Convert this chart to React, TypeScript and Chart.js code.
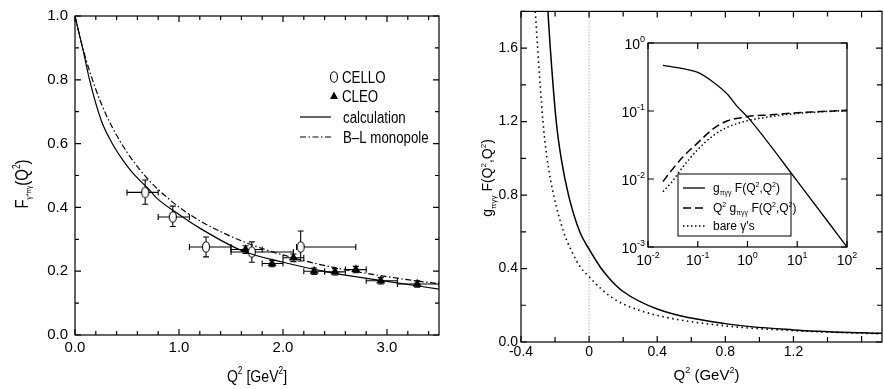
import React, { useEffect, useRef } from "react";
import { Chart, registerables } from "chart.js";

Chart.register(...registerables);

// ---------------- Left panel: F_{γ*πγ}(Q²) ----------------
const calcQ2 = [0, 0.04, 0.08, 0.14, 0.25, 0.35, 0.45, 0.55, 0.7, 0.8, 1.0, 1.2, 1.6, 2.0, 2.5, 3.0, 3.5];
const calcF = [1.0, 0.945, 0.89, 0.8, 0.675, 0.605, 0.553, 0.51, 0.46, 0.425, 0.378, 0.335, 0.265, 0.228, 0.193, 0.168, 0.144];

const blQ2 = [0, 0.05, 0.1, 0.2, 0.3, 0.4, 0.5, 0.6, 0.7, 0.8, 1.0, 1.2, 1.4, 1.6, 1.8, 2.0, 2.25, 2.5, 2.75, 3.0, 3.25, 3.5];
const blF = [1.0, 0.93, 0.87, 0.77, 0.69, 0.626, 0.573, 0.528, 0.489, 0.456, 0.401, 0.358, 0.324, 0.295, 0.271, 0.251, 0.229, 0.211, 0.196, 0.183, 0.171, 0.161];

const celloQ2 = [0.675, 0.94, 1.26, 1.7, 2.17];
const celloF = [0.447, 0.37, 0.276, 0.26, 0.276];
const celloQ2Lo = [0.5, 0.8, 1.1, 1.5, 2.13];
const celloQ2Hi = [0.8, 1.1, 1.5, 2.1, 2.7];
const celloFLo = [0.41, 0.34, 0.245, 0.228, 0.232];
const celloFHi = [0.486, 0.404, 0.307, 0.292, 0.326];

const cleoQ2 = [1.64, 1.895, 2.1, 2.3, 2.5, 2.7, 2.94, 3.29];
const cleoF = [0.268, 0.224, 0.242, 0.2, 0.198, 0.205, 0.17, 0.16];
const cleoQ2Lo = [1.5, 1.8, 2.0, 2.2, 2.4, 2.6, 2.8, 3.1];
const cleoQ2Hi = [1.8, 2.0, 2.2, 2.4, 2.6, 2.8, 3.1, 3.5];
const cleoFLo = [0.256, 0.214, 0.23, 0.19, 0.188, 0.195, 0.16, 0.15];
const cleoFHi = [0.28, 0.234, 0.254, 0.21, 0.208, 0.215, 0.18, 0.17];

const leftLegend = ["CELLO", "CLEO", "calculation", "B\u2013L monopole"];

// ---------------- Right panel: g F(Q²,Q²) ----------------
const fullQ2 = [-0.242, -0.228, -0.193, -0.164, -0.121, -0.055, 0, 0.064, 0.12, 0.2, 0.4, 0.8, 1.2, 1.6, 1.72];
const fullG = [1.8, 1.6, 1.2, 1.0, 0.8, 0.6, 0.505, 0.41, 0.345, 0.275, 0.18, 0.1, 0.066, 0.05, 0.047];

const bareQ2 = [-0.316, -0.302, -0.271, -0.247, -0.208, -0.15, -0.1, -0.053, 0, 0.07, 0.133, 0.2, 0.4, 0.8, 1.2, 1.6, 1.72];
const bareG = [1.8, 1.6, 1.2, 1.0, 0.8, 0.6, 0.49, 0.41, 0.355, 0.29, 0.243, 0.207, 0.145, 0.088, 0.062, 0.048, 0.045];

const zeroLineQ2 = 0;

// ---------------- Inset (log-log) ----------------
const insetSolidQ2 = [0.02, 0.05, 0.1, 0.2, 0.4, 0.6, 1, 10, 100];
const insetSolid = [0.47, 0.42, 0.37, 0.27, 0.175, 0.12, 0.082, 0.0093, 0.001];
const insetCurveQ2 = [0.02, 0.03, 0.05, 0.1, 0.2, 0.4, 0.7, 1, 3, 10, 30, 100];
const insetDashed = [0.0092, 0.0135, 0.021, 0.034, 0.054, 0.072, 0.079, 0.083, 0.088, 0.094, 0.098, 0.103];
const insetBare = [0.0065, 0.009, 0.015, 0.027, 0.043, 0.058, 0.067, 0.072, 0.083, 0.092, 0.097, 0.102];
const insetXTicks = [0.01, 0.1, 1, 10, 100];
const insetXExp = ["-2", "-1", "0", "1", "2"];
const insetYTicks = [0.001, 0.01, 0.1, 1];
const insetYExp = ["-3", "-2", "-1", "0"];

// ---------------- helpers ----------------
const SANS = "'Liberation Sans', Arial, Helvetica, sans-serif";
const NARROW_X = 0.83;

type Seg = [string, number, number];

function drawRich(
  ctx: CanvasRenderingContext2D,
  segs: Seg[],
  x: number,
  y: number,
  family: string,
  align: "left" | "center" | "right",
  rot = 0,
  sx = 1
) {
  ctx.save();
  ctx.translate(x, y);
  if (rot) ctx.rotate(rot);
  if (sx !== 1) ctx.scale(sx, 1);
  ctx.textBaseline = "alphabetic";
  ctx.textAlign = "left";
  ctx.fillStyle = "#000";
  let total = 0;
  const widths = segs.map(([t, s]) => {
    ctx.font = `${s}px ${family}`;
    const w = ctx.measureText(t).width;
    total += w;
    return w;
  });
  let cx = align === "center" ? -total / 2 : align === "right" ? -total : 0;
  segs.forEach(([t, s, dy], i) => {
    ctx.font = `${s}px ${family}`;
    ctx.fillText(t, cx, dy);
    cx += widths[i];
  });
  ctx.restore();
}

const isMult = (v: number, step: number) => Math.abs(v / step - Math.round(v / step)) < 1e-6;

function drawFrameTicks(
  chart: any,
  xMinor: number,
  xMajor: number,
  yMinor: number,
  yMajor: number,
  majLen: number,
  minLen: number,
  lw: number
) {
  const { ctx, chartArea: a } = chart;
  const xs = chart.scales.x;
  const ys = chart.scales.y;
  ctx.save();
  ctx.strokeStyle = "#000";
  ctx.lineWidth = lw;
  ctx.setLineDash([]);
  ctx.strokeRect(a.left, a.top, a.right - a.left, a.bottom - a.top);
  ctx.beginPath();
  for (let k = Math.ceil(xs.min / xMinor - 1e-6); k * xMinor <= xs.max + 1e-9; k++) {
    const v = k * xMinor;
    const px = xs.getPixelForValue(v);
    const len = isMult(v, xMajor) ? majLen : minLen;
    ctx.moveTo(px, a.bottom);
    ctx.lineTo(px, a.bottom - len);
    ctx.moveTo(px, a.top);
    ctx.lineTo(px, a.top + len);
  }
  for (let k = Math.ceil(ys.min / yMinor - 1e-6); k * yMinor <= ys.max + 1e-9; k++) {
    const v = k * yMinor;
    const py = ys.getPixelForValue(v);
    const len = isMult(v, yMajor) ? majLen : minLen;
    ctx.moveTo(a.left, py);
    ctx.lineTo(a.left + len, py);
    ctx.moveTo(a.right, py);
    ctx.lineTo(a.right - len, py);
  }
  ctx.stroke();
  ctx.restore();
}

function ellipseMarker(): HTMLCanvasElement {
  const c = document.createElement("canvas");
  c.width = 10;
  c.height = 14;
  const g = c.getContext("2d")!;
  g.beginPath();
  g.ellipse(5, 7, 3.5, 5.3, 0, 0, Math.PI * 2);
  g.fillStyle = "#fff";
  g.fill();
  g.lineWidth = 1.1;
  g.strokeStyle = "#000";
  g.stroke();
  return c;
}

function pts(xs: number[], ys: number[]) {
  return xs.map((x, i) => ({ x, y: ys[i] }));
}

function linScale(min: number, max: number, step: number, major: number, fmt: (v: number) => string, font: any, padding: number, fitKey: "width" | "height", fitVal: number) {
  return {
    type: "linear" as const,
    min,
    max,
    ticks: {
      stepSize: step,
      autoSkip: false,
      maxRotation: 0,
      minRotation: 0,
      padding,
      color: "#000",
      font,
      callback: (v: any) => (isMult(Number(v), major) ? fmt(Number(v)) : ""),
    },
    grid: { display: false, drawTicks: false },
    border: { display: false },
    afterFit: (s: any) => {
      s[fitKey] = fitVal;
    },
  };
}

// ---------------- chart configs ----------------
function leftConfig(marker: HTMLCanvasElement): any {
  const tickFont = { family: SANS, size: 15 };
  const errPlugin = {
    id: "errbars",
    beforeDatasetsDraw(chart: any) {
      const { ctx, chartArea: a } = chart;
      const xs = chart.scales.x;
      const ys = chart.scales.y;
      ctx.save();
      ctx.beginPath();
      ctx.rect(a.left, a.top, a.right - a.left, a.bottom - a.top);
      ctx.clip();
      ctx.strokeStyle = "#000";
      ctx.lineWidth = 1.1;
      const cap = 3;
      const bar = (q: number, f: number, qlo: number, qhi: number, flo: number, fhi: number) => {
        const px = xs.getPixelForValue(q);
        const py = ys.getPixelForValue(f);
        const x0 = xs.getPixelForValue(qlo);
        const x1 = xs.getPixelForValue(qhi);
        const y0 = ys.getPixelForValue(flo);
        const y1 = ys.getPixelForValue(fhi);
        ctx.beginPath();
        ctx.moveTo(x0, py);
        ctx.lineTo(x1, py);
        ctx.moveTo(x0, py - cap);
        ctx.lineTo(x0, py + cap);
        ctx.moveTo(x1, py - cap);
        ctx.lineTo(x1, py + cap);
        ctx.moveTo(px, y0);
        ctx.lineTo(px, y1);
        ctx.moveTo(px - cap, y0);
        ctx.lineTo(px + cap, y0);
        ctx.moveTo(px - cap, y1);
        ctx.lineTo(px + cap, y1);
        ctx.stroke();
      };
      celloQ2.forEach((q, i) => bar(q, celloF[i], celloQ2Lo[i], celloQ2Hi[i], celloFLo[i], celloFHi[i]));
      cleoQ2.forEach((q, i) => bar(q, cleoF[i], cleoQ2Lo[i], cleoQ2Hi[i], cleoFLo[i], cleoFHi[i]));
      ctx.restore();
    },
    afterDraw(chart: any) {
      const { ctx, chartArea: a } = chart;
      drawFrameTicks(chart, 0.2, 1.0, 0.1, 0.2, 6, 4, 1.2);
      // axis titles
      drawRich(ctx, [["Q", 17, 0], ["2", 10, -8], [" [GeV", 17, 0], ["2", 10, -8], ["]", 17, 0]], (a.left + a.right) / 2, 382, SANS, "center", 0, NARROW_X);
      drawRich(ctx, [["F", 18, 0], ["\u03B3*\u03C0\u03B3", 8, 3], ["(Q", 18, 0], ["2", 10, -8], [")", 18, 0]], 28, 184, SANS, "center", -Math.PI / 2, NARROW_X);
      // legend
      const lx0 = a.left + 225;
      const lx1 = a.left + 256;
      const mx = a.left + 259;
      const tx = a.left + 267;
      const rows = [a.top + 61, a.top + 80, a.top + 101, a.top + 121];
      ctx.save();
      ctx.drawImage(marker, mx - marker.width / 2, rows[0] - marker.height / 2);
      ctx.fillStyle = "#000";
      ctx.beginPath();
      ctx.moveTo(mx, rows[1] - 4.5);
      ctx.lineTo(mx + 4, rows[1] + 3);
      ctx.lineTo(mx - 4, rows[1] + 3);
      ctx.closePath();
      ctx.fill();
      ctx.strokeStyle = "#000";
      ctx.lineWidth = 1.2;
      ctx.beginPath();
      ctx.moveTo(lx0, rows[2]);
      ctx.lineTo(lx1, rows[2]);
      ctx.stroke();
      ctx.setLineDash([6, 2.5, 1.5, 2.5]);
      ctx.beginPath();
      ctx.moveTo(lx0, rows[3]);
      ctx.lineTo(lx1, rows[3]);
      ctx.stroke();
      ctx.restore();
      leftLegend.forEach((t, i) => drawRich(ctx, [[t, 16, 0]], i < 2 ? tx : tx + 1, rows[i] + 6, SANS, "left", 0, NARROW_X));
    },
  };
  return {
    type: "scatter",
    data: {
      datasets: [
        {
          label: "calculation",
          data: pts(calcQ2, calcF),
          showLine: true,
          borderColor: "#000",
          borderWidth: 1.2,
          pointRadius: 0,
          cubicInterpolationMode: "monotone",
        },
        {
          label: "B-L monopole",
          data: pts(blQ2, blF),
          showLine: true,
          borderColor: "#000",
          borderWidth: 1.2,
          borderDash: [6, 2.5, 1.5, 2.5],
          pointRadius: 0,
          cubicInterpolationMode: "monotone",
        },
        {
          label: "CELLO",
          data: pts(celloQ2, celloF),
          pointStyle: marker,
          pointRadius: 5,
          showLine: false,
        },
        {
          label: "CLEO",
          data: pts(cleoQ2, cleoF),
          pointStyle: "triangle",
          pointRadius: 4.8,
          backgroundColor: "#000",
          borderColor: "#000",
          borderWidth: 0.5,
          showLine: false,
        },
      ],
    },
    options: {
      responsive: false,
      animation: false,
      devicePixelRatio: 1,
      layout: { padding: { left: 0, right: 6, top: 11, bottom: 0 } },
      plugins: { legend: { display: false }, tooltip: { enabled: false } },
      scales: {
        x: linScale(0, 3.5, 0.2, 1.0, (v) => v.toFixed(1), tickFont, 4, "height", 54),
        y: linScale(0, 1.0, 0.1, 0.2, (v) => v.toFixed(1), tickFont, 7, "width", 75),
      },
    },
    plugins: [errPlugin],
  };
}

function rightConfig(): any {
  const tickFont = { family: SANS, size: 14 };
  const deco = {
    id: "rightdeco",
    beforeDatasetsDraw(chart: any) {
      const { ctx, chartArea: a } = chart;
      const px = chart.scales.x.getPixelForValue(zeroLineQ2);
      ctx.save();
      ctx.strokeStyle = "#888";
      ctx.lineWidth = 1;
      ctx.setLineDash([1, 2]);
      ctx.beginPath();
      ctx.moveTo(px, a.top);
      ctx.lineTo(px, a.bottom);
      ctx.stroke();
      ctx.restore();
    },
    afterDraw(chart: any) {
      const { ctx, chartArea: a } = chart;
      drawFrameTicks(chart, 0.2, 0.4, 0.2, 0.4, 6, 5, 1.2);
      drawRich(ctx, [["Q", 15, 0], ["2", 9, -7], [" (GeV", 15, 0], ["2", 9, -7], [")", 15, 0]], (a.left + a.right) / 2 + 5, 380, SANS, "center");
      drawRich(
        ctx,
        [["g", 14, 0], ["\u03C0\u03B3\u03B3", 8, 4], [" F(Q", 14, 0], ["2", 8, -6], [",Q", 14, 0], ["2", 8, -6], [")", 14, 0]],
        52,
        178,
        SANS,
        "center",
        -Math.PI / 2
      );
    },
  };
  return {
    type: "scatter",
    data: {
      datasets: [
        {
          label: "full",
          data: pts(fullQ2, fullG),
          showLine: true,
          borderColor: "#000",
          borderWidth: 1.5,
          pointRadius: 0,
          cubicInterpolationMode: "monotone",
        },
        {
          label: "bare",
          data: pts(bareQ2, bareG),
          showLine: true,
          borderColor: "#000",
          borderWidth: 1.6,
          borderDash: [1.5, 3.5],
          pointRadius: 0,
          cubicInterpolationMode: "monotone",
        },
      ],
    },
    options: {
      responsive: false,
      animation: false,
      devicePixelRatio: 1,
      layout: { padding: { left: 0, right: 1, top: 11, bottom: 0 } },
      plugins: { legend: { display: false }, tooltip: { enabled: false } },
      scales: {
        x: linScale(-0.4, 1.72, 0.2, 0.4, (v) => (Math.abs(v) < 1e-9 ? "0" : v.toFixed(1)), tickFont, 2, "height", 47),
        y: linScale(0, 1.8, 0.2, 0.4, (v) => v.toFixed(1), tickFont, 3, "width", 81),
      },
    },
    plugins: [deco],
  };
}

function insetConfig(): any {
  const deco = {
    id: "insetdeco",
    beforeDraw(chart: any) {
      const { ctx, chartArea: a } = chart;
      ctx.save();
      ctx.fillStyle = "#fff";
      ctx.fillRect(a.left, a.top, a.right - a.left, a.bottom - a.top);
      ctx.restore();
    },
    afterDraw(chart: any) {
      const { ctx, chartArea: a } = chart;
      const xs = chart.scales.x;
      const ys = chart.scales.y;
      ctx.save();
      ctx.strokeStyle = "#000";
      ctx.lineWidth = 1.2;
      ctx.strokeRect(a.left, a.top, a.right - a.left, a.bottom - a.top);
      ctx.beginPath();
      const len = 6;
      insetXTicks.forEach((v) => {
        const px = xs.getPixelForValue(v);
        ctx.moveTo(px, a.bottom);
        ctx.lineTo(px, a.bottom - len);
        ctx.moveTo(px, a.top);
        ctx.lineTo(px, a.top + len);
      });
      insetYTicks.forEach((v) => {
        const py = ys.getPixelForValue(v);
        ctx.moveTo(a.left, py);
        ctx.lineTo(a.left + len, py);
        ctx.moveTo(a.right, py);
        ctx.lineTo(a.right - len, py);
      });
      ctx.stroke();
      ctx.restore();
      insetXTicks.forEach((v, i) => {
        drawRich(ctx, [["10", 14, 0], [insetXExp[i], 9, -7]], xs.getPixelForValue(v), a.bottom + 18, SANS, "center");
      });
      insetYTicks.forEach((v, i) => {
        drawRich(ctx, [["10", 14, 0], [insetYExp[i], 9, -7]], a.left - 3, ys.getPixelForValue(v) + 6, SANS, "right");
      });
      // legend box
      const bx0 = a.left + 30;
      const bx1 = a.left + 143;
      const by0 = a.top + 131;
      const by1 = a.top + 193;
      ctx.save();
      ctx.fillStyle = "#fff";
      ctx.fillRect(bx0, by0, bx1 - bx0, by1 - by0);
      ctx.strokeStyle = "#000";
      ctx.lineWidth = 1;
      ctx.strokeRect(bx0, by0, bx1 - bx0, by1 - by0);
      const rows = [by0 + 14, by0 + 34, by0 + 52];
      const l0 = bx0 + 5;
      const l1 = bx0 + 27;
      const styles: [number[], number][] = [
        [[], 1.3],
        [[8, 4], 1.5],
        [[1.5, 2.5], 1.5],
      ];
      styles.forEach(([dash, w], i) => {
        ctx.setLineDash(dash);
        ctx.lineWidth = w;
        ctx.beginPath();
        ctx.moveTo(l0, rows[i]);
        ctx.lineTo(l1, rows[i]);
        ctx.stroke();
      });
      ctx.restore();
      const tx = bx0 + 35;
      drawRich(ctx, [["g", 12, 0], ["\u03C0\u03B3\u03B3", 7, 3], [" F(Q", 12, 0], ["2", 7, -5], [",Q", 12, 0], ["2", 7, -5], [")", 12, 0]], tx, rows[0] + 4, SANS, "left");
      drawRich(ctx, [["Q", 12, 0], ["2", 7, -5], [" g", 12, 0], ["\u03C0\u03B3\u03B3", 7, 3], [" F(Q", 12, 0], ["2", 7, -5], [",Q", 12, 0], ["2", 7, -5], [")", 12, 0]], tx, rows[1] + 4, SANS, "left");
      drawRich(ctx, [["bare \u03B3's", 12, 0]], tx, rows[2] + 4, SANS, "left");
    },
  };
  return {
    type: "scatter",
    data: {
      datasets: [
        {
          label: "g F",
          data: pts(insetSolidQ2, insetSolid),
          showLine: true,
          borderColor: "#000",
          borderWidth: 1.3,
          pointRadius: 0,
          cubicInterpolationMode: "monotone",
        },
        {
          label: "Q2 g F",
          data: pts(insetCurveQ2, insetDashed),
          showLine: true,
          borderColor: "#000",
          borderWidth: 1.5,
          borderDash: [8, 4],
          pointRadius: 0,
          cubicInterpolationMode: "monotone",
        },
        {
          label: "bare",
          data: pts(insetCurveQ2, insetBare),
          showLine: true,
          borderColor: "#000",
          borderWidth: 1.5,
          borderDash: [1.5, 2.5],
          pointRadius: 0,
          cubicInterpolationMode: "monotone",
        },
      ],
    },
    options: {
      responsive: false,
      animation: false,
      devicePixelRatio: 1,
      layout: { padding: { left: 58, right: 13, top: 23, bottom: 33 } },
      plugins: { legend: { display: false }, tooltip: { enabled: false } },
      scales: {
        x: { type: "logarithmic", min: 0.01, max: 100, display: false },
        y: { type: "logarithmic", min: 0.001, max: 1, display: false },
      },
    },
    plugins: [deco],
  };
}

export default function App() {
  const leftRef = useRef<HTMLCanvasElement>(null);
  const rightRef = useRef<HTMLCanvasElement>(null);
  const insetRef = useRef<HTMLCanvasElement>(null);

  useEffect(() => {
    const marker = ellipseMarker();
    const charts: Chart[] = [];
    if (leftRef.current) charts.push(new Chart(leftRef.current, leftConfig(marker)));
    if (rightRef.current) charts.push(new Chart(rightRef.current, rightConfig()));
    if (insetRef.current) charts.push(new Chart(insetRef.current, insetConfig()));
    return () => charts.forEach((c) => c.destroy());
  }, []);

  return (
    <div style={{ position: "fixed", left: 0, top: 0, width: 884, height: 389, background: "#fff", overflow: "hidden" }}>
      <canvas ref={leftRef} width={445} height={389} style={{ position: "absolute", left: 0, top: 0, width: 445, height: 389 }} />
      <canvas ref={rightRef} width={444} height={389} style={{ position: "absolute", left: 440, top: 0, width: 444, height: 389 }} />
      <canvas ref={insetRef} width={270} height={260} style={{ position: "absolute", left: 590, top: 20, width: 270, height: 260 }} />
    </div>
  );
}
